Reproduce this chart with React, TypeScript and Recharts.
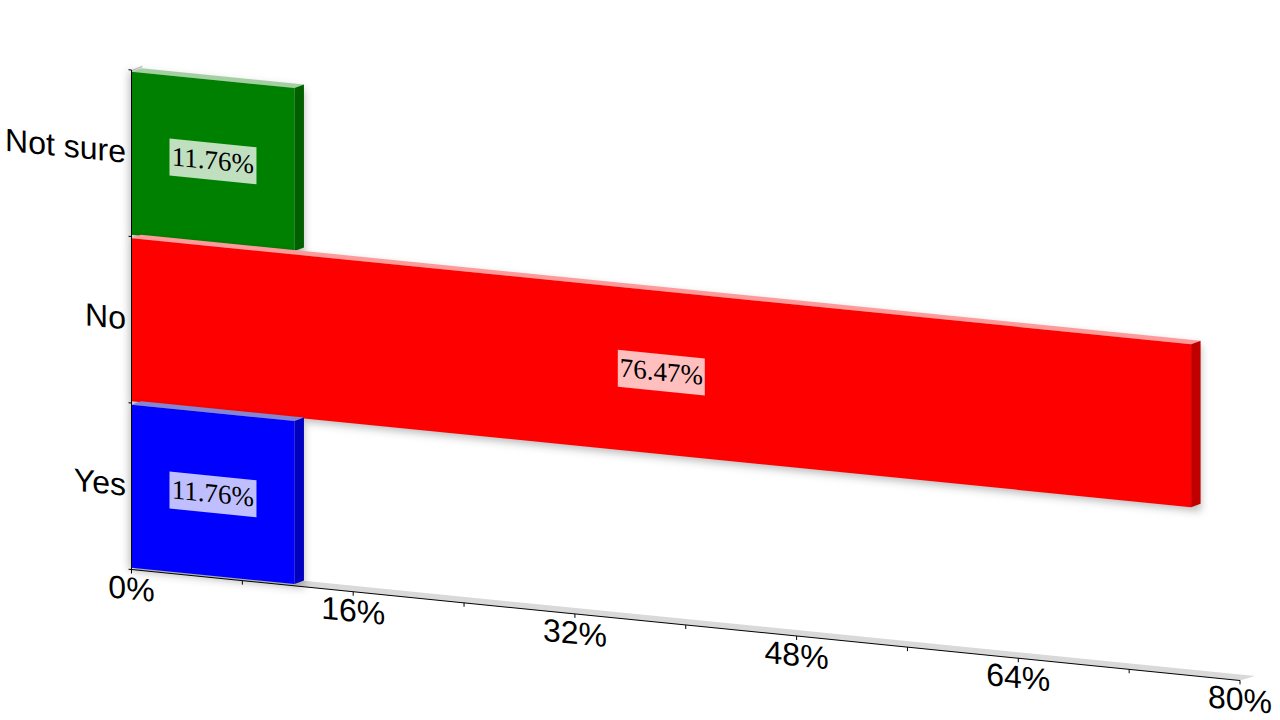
import React from "react";
import { BarChart, Bar, XAxis, YAxis, ReferenceArea, LabelList } from "recharts";

const categories = ["Not sure", "No", "Yes"];
const percents = [11.76, 76.47, 11.76];
const valueTicks = [0, 8, 16, 24, 32, 40, 48, 56, 64, 72, 80];
const labelledTicks = [0, 16, 32, 48, 64, 80];
const frontColors = ["#008000", "#ff0000", "#0000ff"];
const topColors = ["#a3cfa3", "#ff9a9a", "#8585d0"];
const sideColors = ["#006000", "#c00000", "#0000c0"];

const rows = categories.map((name, i) => ({ name, value: percents[i] }));

const SKEW = 0.1;
const DEPTH_X = 9.5;
const DEPTH_Y = 4.4;

function pts(list: number[][]) {
  return list.map((p) => p.join(",")).join(" ");
}

function Bar3D(props: any) {
  const { x, y, width, height, index } = props;
  return (
    <g>
      <rect
        x={x - 2}
        y={y}
        width={width + DEPTH_X + 2}
        height={height + 3}
        fill="#000"
        fillOpacity={0.28}
        style={{ filter: "blur(4px)" }}
      />
      <polygon
        points={pts([[x, y], [x + width, y], [x + width + DEPTH_X, y - DEPTH_Y], [x + DEPTH_X, y - DEPTH_Y]])}
        fill={topColors[index]}
      />
      <polygon
        points={pts([[x + width, y], [x + width + DEPTH_X, y - DEPTH_Y], [x + width + DEPTH_X, y + height - DEPTH_Y], [x + width, y + height]])}
        fill={sideColors[index]}
      />
      <rect x={x} y={y} width={width} height={height} fill={frontColors[index]} />
    </g>
  );
}

function Stage(props: any) {
  const { x, y, width, height } = props;
  const bottom = y + height;
  const band = height / categories.length;
  return (
    <g>
      <polygon
        points={pts([[x, bottom], [x + width, bottom], [x + width + 15, bottom - 6], [x + 15, bottom - 6]])}
        fill="#d9d9d9"
      />
      <polygon points={pts([[x, y], [x + 11, y - 5.6], [x + 11, y - 4], [x, y + 1.5]])} fill="#c8c8c8" />
      {[0, 1, 2, 3].map((i) => (
        <line key={i} x1={x - 3} x2={x} y1={y + band * i} y2={y + band * i} stroke="#000" strokeWidth={1} />
      ))}
    </g>
  );
}

function ValueTick(props: any) {
  const { x, y, payload } = props;
  if (!labelledTicks.includes(payload.value)) return null;
  return (
    <text x={x} y={y + 24} textAnchor="middle" fontFamily="Liberation Sans" fontSize={32} fill="#000">
      {payload.value}%
    </text>
  );
}

function NameTick(props: any) {
  const { y, payload } = props;
  return (
    <text x={126} y={y + 10} textAnchor="end" fontFamily="Liberation Sans" fontSize={32} fill="#000">
      {payload.value}
    </text>
  );
}

function ValueLabel(props: any) {
  const { x, y, width, height, value } = props;
  const cx = x + width / 2;
  const cy = y + height / 2;
  return (
    <g>
      <rect x={cx - 43.5} y={cy - 18.5} width={87} height={37} fill="#fff" fillOpacity={0.75} />
      <text x={cx} y={cy + 8} textAnchor="middle" fontFamily="Liberation Serif" fontSize={27} fill="#000">
        {value.toFixed(2)}%
      </text>
    </g>
  );
}

export default function App() {
  return (
    <div style={{ position: "absolute", left: 0, top: 0, width: 1280, height: 720, overflow: "hidden", background: "#fff" }}>
      <div style={{ transformOrigin: "0 0", transform: `matrix(1, ${SKEW}, 0, 1, 0, ${-SKEW * 131})`, width: 1280, height: 720 }}>
        <BarChart
          width={1280}
          height={720}
          data={rows}
          layout="vertical"
          barCategoryGap="1%"
          margin={{ top: 70, right: 40, bottom: 0, left: 0 }}
          style={{ overflow: "visible" }}
        >
          <ReferenceArea x1={0} x2={80} ifOverflow="visible" shape={<Stage />} />
          <XAxis
            type="number"
            dataKey="value"
            domain={[0, 80]}
            ticks={valueTicks}
            interval={0}
            height={150.5}
            tick={<ValueTick />}
            tickSize={4}
            stroke="#000"
          />
          <YAxis type="category" dataKey="name" width={131.5} tick={<NameTick />} tickLine={false} stroke="#000" />
          <Bar dataKey="value" isAnimationActive={false} shape={<Bar3D />}>
            <LabelList dataKey="value" content={<ValueLabel />} />
          </Bar>
        </BarChart>
      </div>
    </div>
  );
}
